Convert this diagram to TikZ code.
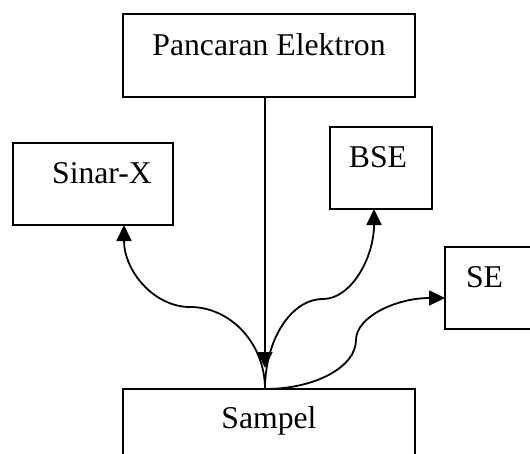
\documentclass[tikz,border=0pt]{standalone}
\usepackage{fontspec}
\setmainfont{Liberation Serif}
\usetikzlibrary{arrows.meta}
\begin{document}
\begin{tikzpicture}[x=1pt,y=-1pt,
  box/.style={draw,line width=1.8pt,inner sep=0pt,outer sep=0pt},
  lbl/.style={font=\fontsize{31.7}{38}\selectfont,anchor=base,inner sep=0pt},
  conn/.style={line width=1.8pt,-{Triangle[length=16pt,width=15pt]}}]
\useasboundingbox (0,0) rectangle (530,453);
\clip (0,0) rectangle (530,453);
% boxes
\node[box,minimum width=292pt,minimum height=83pt] (beam) at (269,55.5) {};
\node[box,minimum width=160pt,minimum height=82pt] (sinar) at (93,184) {};
\node[box,minimum width=102pt,minimum height=82pt] (bse) at (381,168) {};
\node[box,minimum width=100pt,minimum height=82pt] (se) at (495,288) {};
\node[box,minimum width=292pt,minimum height=91pt] (sampel) at (269,434.5) {};
% labels
\node[lbl] (beamtxt) at (269,55) {Pancaran Elektron};
\node[lbl] (sinartxt) at (102,183) {Sinar-X};
\node[lbl] (bsetxt) at (378,167) {BSE};
\node[lbl] (setxt) at (484.5,287) {SE};
\node[lbl] (sampeltxt) at (269,428) {Sampel};
% connectors
\coordinate (src) at (265,389);
\coordinate (hit) at (265,368);
\draw[conn] (beam.south -| src) -- (hit);
\draw[conn] (src) .. controls (265,344) and (231,307) .. (190,307)
  .. controls (154,307) and (124,271) .. ([xshift=31pt]sinar.south);
\draw[conn] (src) .. controls (265,340) and (291,299) .. (323,299)
  .. controls (351,299) and (374,258) .. ([xshift=-7pt]bse.south);
\draw[conn] (src) .. controls (315,389) and (356,367) .. (356,340)
  .. controls (356,317) and (396,298) .. ([yshift=-10pt]se.west);
\end{tikzpicture}
\end{document}
